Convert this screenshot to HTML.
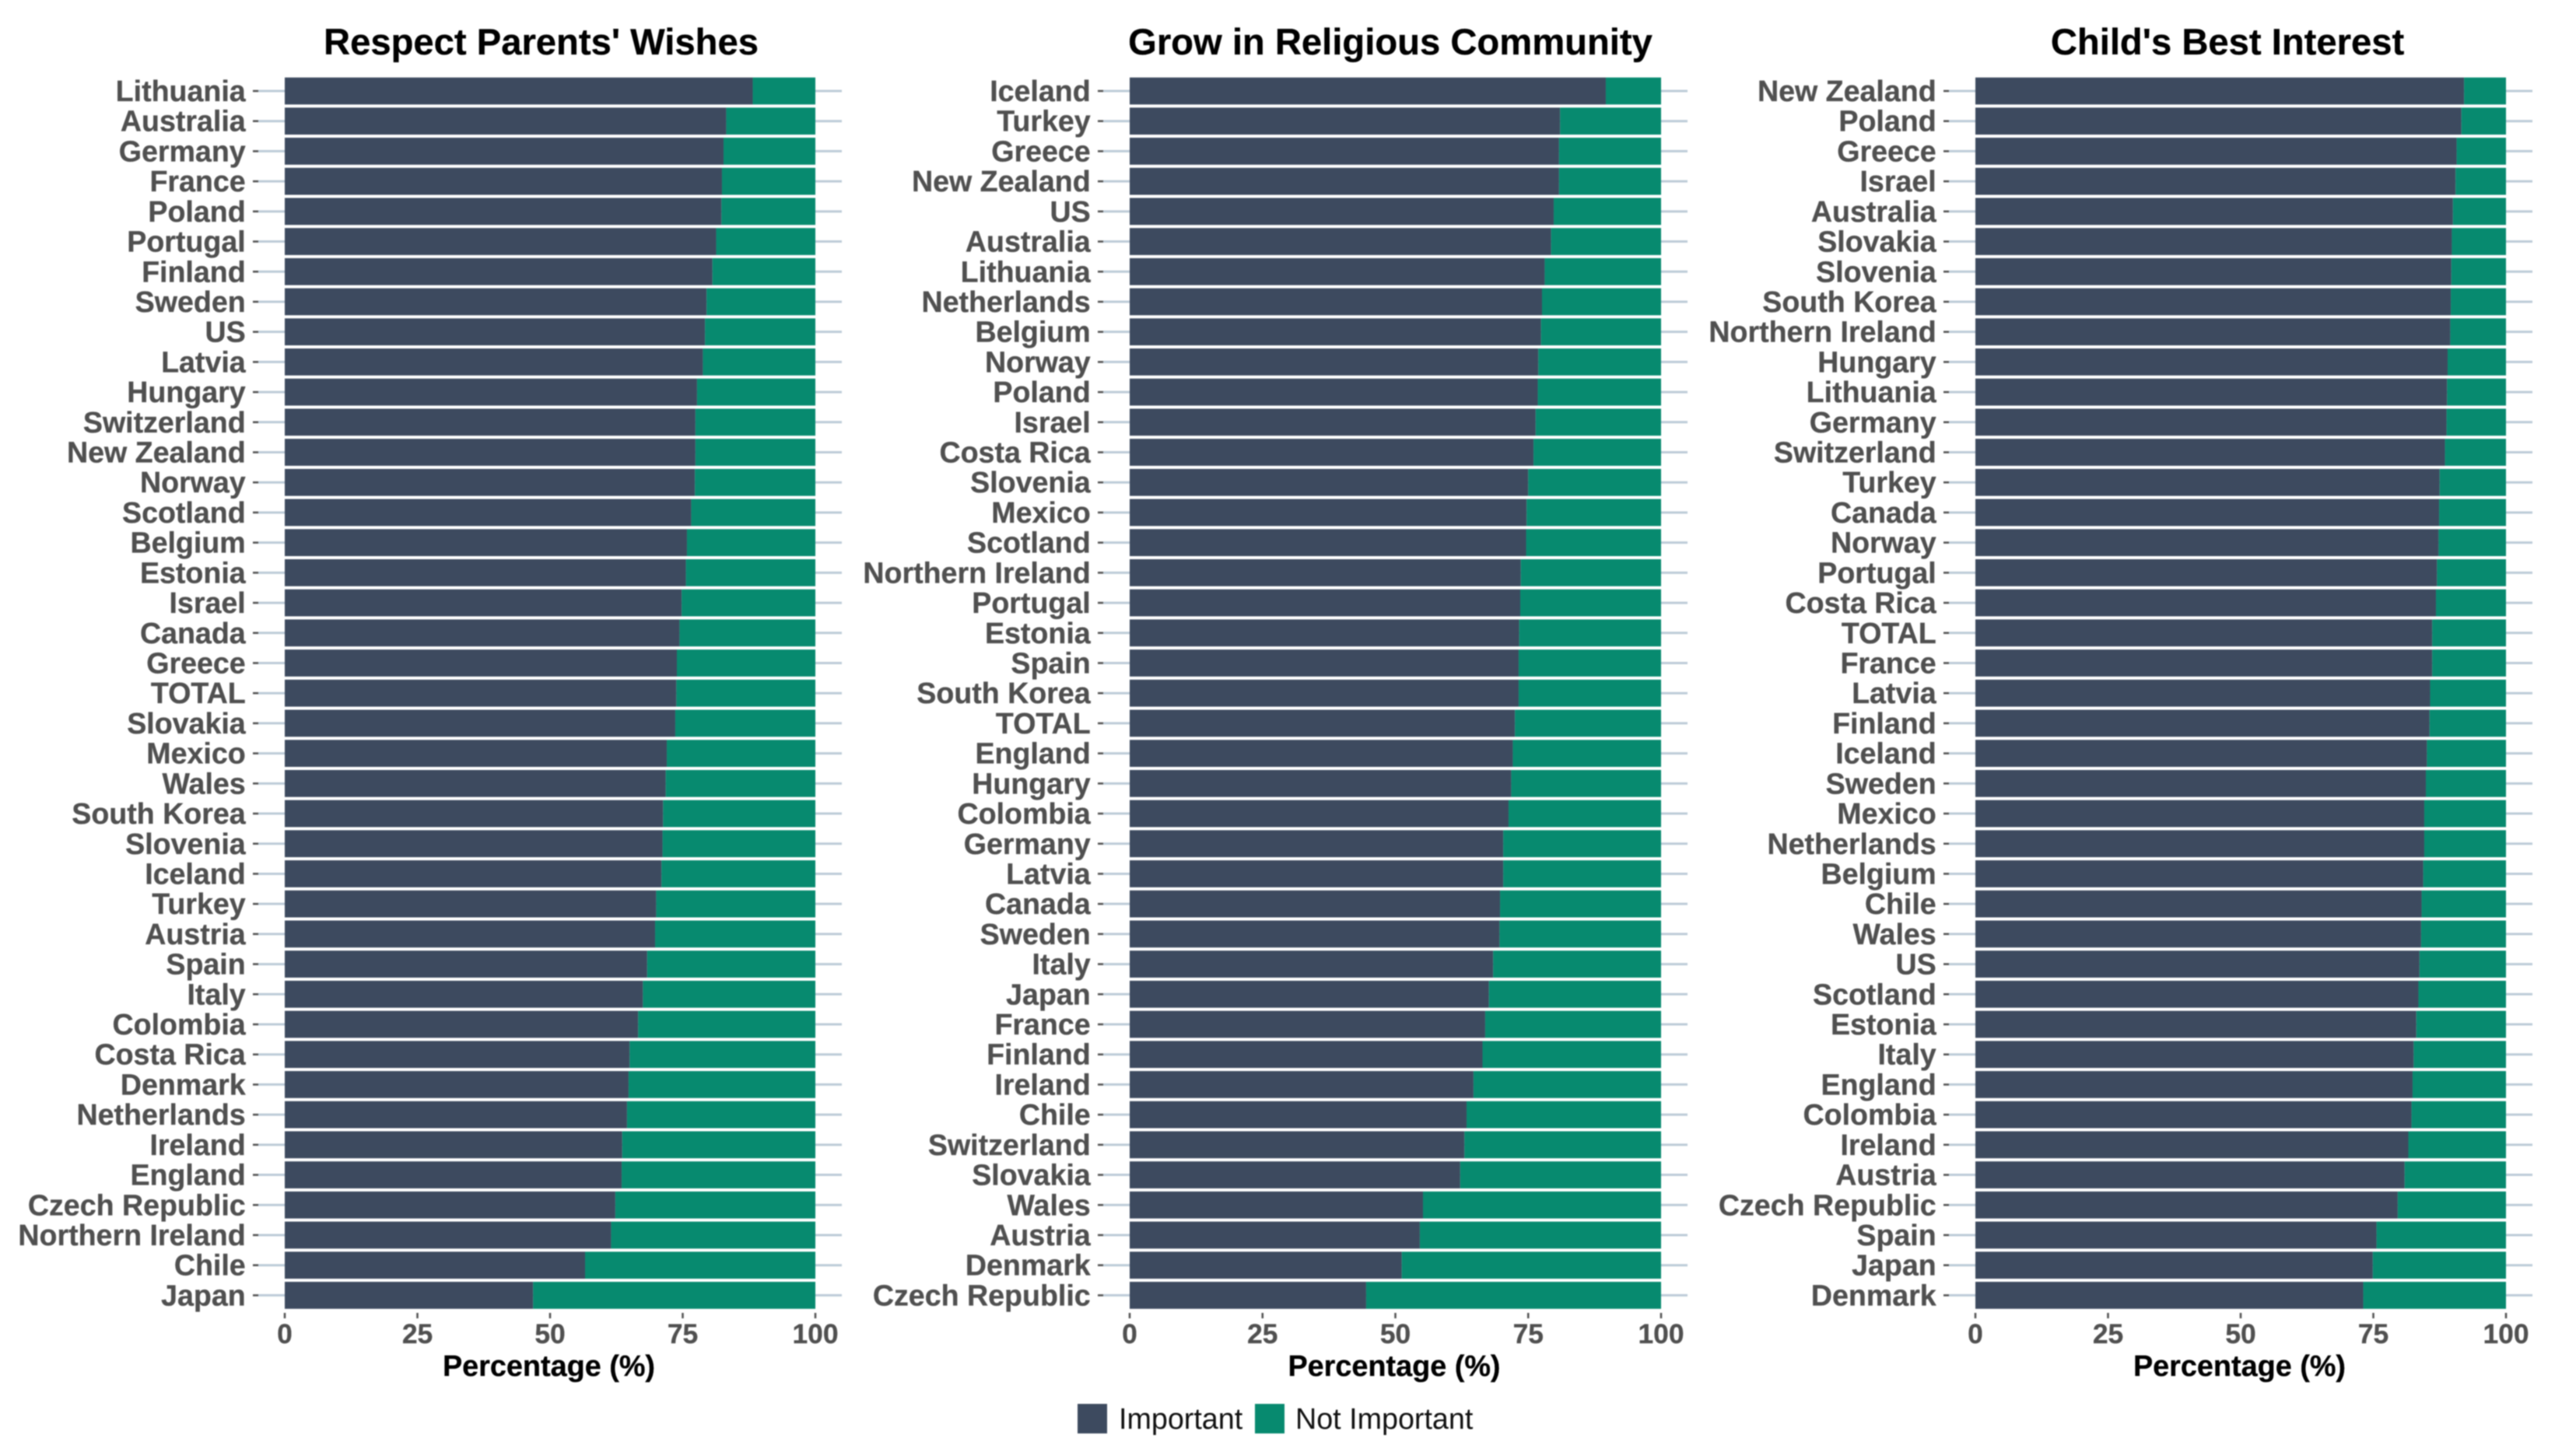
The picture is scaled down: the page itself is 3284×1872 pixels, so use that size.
<!DOCTYPE html>
<html lang="en">
<head>
<meta charset="utf-8">
<title>Importance of reasons by country</title>
<style>
html,body{margin:0;padding:0;background:#fff;}
body{width:3284px;height:1872px;overflow:hidden;}
svg{display:block;filter:blur(0.75px);font-family:"Liberation Sans",sans-serif;}
</style>
</head>
<body>
<svg id="chart" xmlns="http://www.w3.org/2000/svg" width="3284" height="1872" viewBox="0 0 3284 1872">
  <rect x="0" y="0" width="3284" height="1872" fill="#ffffff"/>
  <g>
    <g>
      <rect x="1385" y="1805" width="38" height="38" fill="#3d4a5f"/>
      <text x="1438" y="1837" font-size="37.7" fill="#111">Important</text>
    </g>
    <g>
      <rect x="1613" y="1805" width="38" height="38" fill="#078a6f"/>
      <text x="1665" y="1837" font-size="37.7" fill="#111">Not Important</text>
    </g>
  </g>
</svg>
<script>
const xTickValues = [0, 25, 50, 75, 100];

const parentsCountries = ["Lithuania","Australia","Germany","France","Poland","Portugal","Finland","Sweden","US","Latvia","Hungary","Switzerland","New Zealand","Norway","Scotland","Belgium","Estonia","Israel","Canada","Greece","TOTAL","Slovakia","Mexico","Wales","South Korea","Slovenia","Iceland","Turkey","Austria","Spain","Italy","Colombia","Costa Rica","Denmark","Netherlands","Ireland","England","Czech Republic","Northern Ireland","Chile","Japan"];
const parentsImportant = [88.2,83.2,82.7,82.4,82.3,81.3,80.6,79.5,79.2,78.8,77.7,77.4,77.4,77.3,76.6,75.8,75.6,74.8,74.4,73.9,73.8,73.6,72.0,71.8,71.3,71.2,71.0,70.0,69.8,68.3,67.5,66.6,65.0,64.8,64.5,63.6,63.5,62.3,61.5,56.6,46.8];

const religionCountries = ["Iceland","Turkey","Greece","New Zealand","US","Australia","Lithuania","Netherlands","Belgium","Norway","Poland","Israel","Costa Rica","Slovenia","Mexico","Scotland","Northern Ireland","Portugal","Estonia","Spain","South Korea","TOTAL","England","Hungary","Colombia","Germany","Latvia","Canada","Sweden","Italy","Japan","France","Finland","Ireland","Chile","Switzerland","Slovakia","Wales","Austria","Denmark","Czech Republic"];
const religionImportant = [89.6,81.0,80.8,80.8,79.8,79.3,78.1,77.6,77.4,76.9,76.8,76.4,76.0,75.0,74.7,74.6,73.6,73.5,73.3,73.2,73.2,72.5,72.1,71.8,71.3,70.3,70.3,69.7,69.6,68.4,67.6,66.9,66.4,64.7,63.4,63.0,62.2,55.2,54.6,51.2,44.5];

const interestCountries = ["New Zealand","Poland","Greece","Israel","Australia","Slovakia","Slovenia","South Korea","Northern Ireland","Hungary","Lithuania","Germany","Switzerland","Turkey","Canada","Norway","Portugal","Costa Rica","TOTAL","France","Latvia","Finland","Iceland","Sweden","Mexico","Netherlands","Belgium","Chile","Wales","US","Scotland","Estonia","Italy","England","Colombia","Ireland","Austria","Czech Republic","Spain","Japan","Denmark"];
const interestImportant = [92.1,91.6,90.7,90.5,90.0,89.8,89.7,89.6,89.5,89.0,88.9,88.8,88.5,87.5,87.4,87.3,87.0,86.8,86.1,86.1,85.7,85.6,85.1,84.9,84.6,84.6,84.4,84.1,84.0,83.7,83.5,83.1,82.6,82.4,82.2,81.6,80.9,79.6,75.6,74.9,73.1];

const SVG_NS = "http://www.w3.org/2000/svg";
const chart = document.getElementById("chart");
const DARK = "#3d4a5f";
const GREEN = "#078a6f";
const GRID = "#bccbd7";
const TICK = "#555555";
const LABEL = "#505050";
const FIRST_ROW_Y = 117;
const ROW_STEP = 38.71;
const BAR_HEIGHT = 34.7;
const GRID_EXPAND = 34;

function make(tag, attrs, parent) {
  const el = document.createElementNS(SVG_NS, tag);
  Object.keys(attrs).forEach(function (k) { el.setAttribute(k, attrs[k]); });
  parent.appendChild(el);
  return el;
}

function drawPanel(slug, title, countries, important, x0, plotWidth, titleX, axisTitleX) {
  const xScale = function (v) { return x0 + (v / 100) * plotWidth; };
  const yScale = function (i) { return FIRST_ROW_Y + i * ROW_STEP; };

  const panel = make("g", {}, chart);
  
  

  const titleEl = make("text", { x: titleX, y: 70, "text-anchor": "middle", "font-size": 47.2, "font-weight": 700, fill: "#000", stroke: "#000", "stroke-width": 0.3 }, panel);
  
  
  titleEl.textContent = title;

  countries.forEach(function (country, i) {
    const y = yScale(i);
    const value = important[i];

    const row = make("g", {}, panel);
    
    

    const grid = make("line", { x1: xScale(0) - GRID_EXPAND, x2: xScale(100) + GRID_EXPAND, y1: y, y2: y, stroke: GRID, "stroke-width": 3 }, row);
    
    

    const tick = make("line", { x1: xScale(0) - GRID_EXPAND - 7, x2: xScale(0) - GRID_EXPAND, y1: y, y2: y, stroke: TICK, "stroke-width": 2.6 }, row);
    
    

    const label = make("text", { x: xScale(0) - 50.3, y: y + 13, "text-anchor": "end", "font-size": 37.6, "font-weight": 700, fill: LABEL, stroke: LABEL, "stroke-width": 0.3 }, row);
    
    
    label.textContent = country;

    const barImportant = make("rect", { x: xScale(0), y: y - BAR_HEIGHT / 2, width: xScale(value) - xScale(0), height: BAR_HEIGHT, fill: DARK }, row);
    
    

    const barNot = make("rect", { x: xScale(value), y: y - BAR_HEIGHT / 2, width: xScale(100) - xScale(value), height: BAR_HEIGHT, fill: GREEN }, row);
    
    
  });

  xTickValues.forEach(function (v) {
    const tick = make("line", { x1: xScale(v), x2: xScale(v), y1: 1688, y2: 1695, stroke: TICK, "stroke-width": 2.6 }, panel);
    
    

    const label = make("text", { x: xScale(v), y: 1727, "text-anchor": "middle", "font-size": 35.4, "font-weight": 700, fill: LABEL, stroke: LABEL, "stroke-width": 0.3 }, panel);
    
    
    label.textContent = String(v);
  });

  const axisTitle = make("text", { x: axisTitleX, y: 1769, "text-anchor": "middle", "font-size": 37.8, "font-weight": 700, fill: "#000", stroke: "#000", "stroke-width": 0.3 }, panel);
  
  
  axisTitle.textContent = "Percentage (%)";
}

drawPanel("respect-parents", "Respect Parents' Wishes", parentsCountries, parentsImportant, 366, 682, 695.5, 705.5);
drawPanel("religious-community", "Grow in Religious Community", religionCountries, religionImportant, 1452, 683, 1787, 1792);
drawPanel("best-interest", "Child's Best Interest", interestCountries, interestImportant, 2539, 682, 2863, 2878.5);
</script>
</body>
</html>
